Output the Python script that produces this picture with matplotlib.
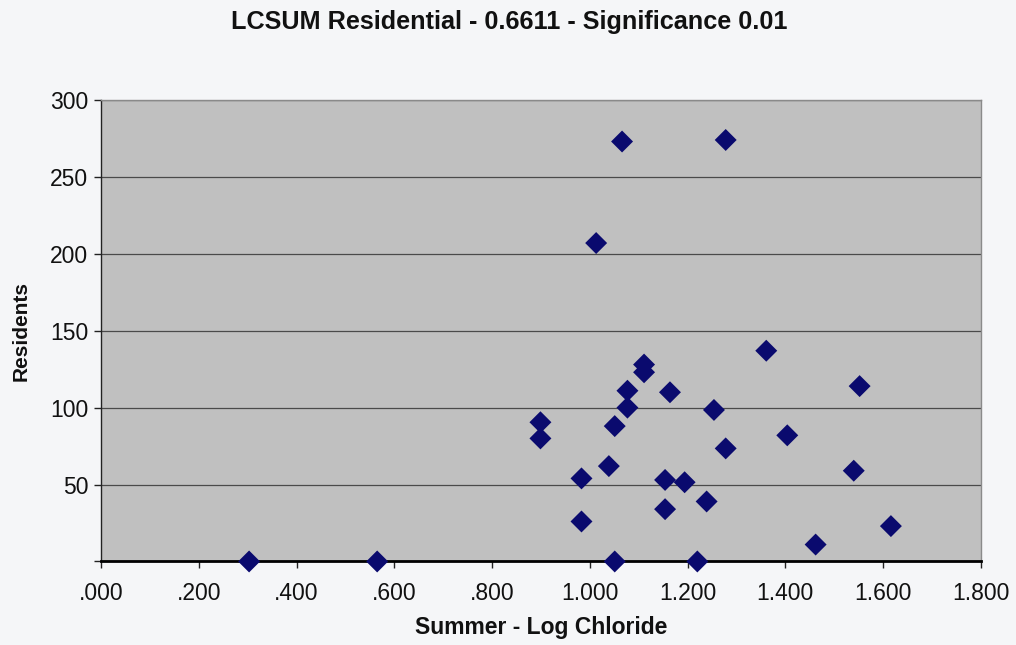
import matplotlib
matplotlib.use("Agg")
import matplotlib.pyplot as plt
from matplotlib.ticker import FuncFormatter, MultipleLocator

# Summer log chloride vs. residents per site
log_chloride = [0.303, 0.565, 0.899, 0.899, 0.983, 0.983, 1.013, 1.039, 1.051, 1.051,
                1.066, 1.077, 1.077, 1.111, 1.111, 1.154, 1.154, 1.164, 1.194, 1.220,
                1.239, 1.254, 1.278, 1.278, 1.361, 1.404, 1.462, 1.540, 1.552, 1.616]
residents = [0, 0, 90.5, 80, 54, 26, 207, 62, 88, 0,
             273, 111, 100, 128, 123, 53, 34, 110, 51.5, 0,
             39, 98.5, 274, 73.5, 137, 82, 11, 59, 114, 23]

title_text = "LCSUM Residential - 0.6611 - Significance 0.01"
x_label = "Summer - Log Chloride"
y_label = "Residents"
y_tick_values = [0, 50, 100, 150, 200, 250, 300]
y_tick_labels = ["", "50", "100", "150", "200", "250", "300"]

plt.rcParams["font.family"] = ["Liberation Sans", "DejaVu Sans"]

fig = plt.figure(figsize=(10.16, 6.45), dpi=100, facecolor="#f5f6f8")
ax = fig.add_axes([0.0994, 0.1295, 0.866, 0.7155])
ax.set_facecolor("#c0c0c0")

ax.scatter(log_chloride, residents, marker="D", s=125, color="#0a0a6e",
           edgecolors="none", zorder=3, clip_on=False)

ax.set_xlim(0, 1.8)
ax.set_ylim(0, 300)
ax.xaxis.set_major_locator(MultipleLocator(0.2))
ax.xaxis.set_major_formatter(FuncFormatter(
    lambda v, pos: f"{v:.3f}".lstrip("0") if v < 1 else f"{v:.3f}"))
ax.set_yticks(y_tick_values)
ax.set_yticklabels(y_tick_labels)

ax.grid(axis="y", color="#4a4a4a", linewidth=0.9, zorder=1)
ax.set_axisbelow(True)

for side in ("top", "right"):
    ax.spines[side].set_color("#8a8a8a")
    ax.spines[side].set_linewidth(1.0)
ax.spines["left"].set_color("#222222")
ax.spines["left"].set_linewidth(1.0)
ax.spines["bottom"].set_color("#000000")
ax.spines["bottom"].set_linewidth(2.0)

ax.tick_params(axis="both", direction="out", length=5, width=1,
               color="#222222", labelsize=16.5, labelcolor="#111111")
ax.tick_params(axis="x", pad=10)
ax.tick_params(axis="y", pad=4)

ax.set_xlabel(x_label, fontsize=16.5, fontweight="bold", labelpad=8, color="#111111")
ax.set_ylabel(y_label, fontsize=15, fontweight="bold", labelpad=14, color="#111111")
fig.suptitle(title_text, x=0.501, y=0.985, fontsize=18.2, fontweight="bold",
             color="#111111", va="top")

fig.savefig("out.png", dpi=100, facecolor=fig.get_facecolor())
